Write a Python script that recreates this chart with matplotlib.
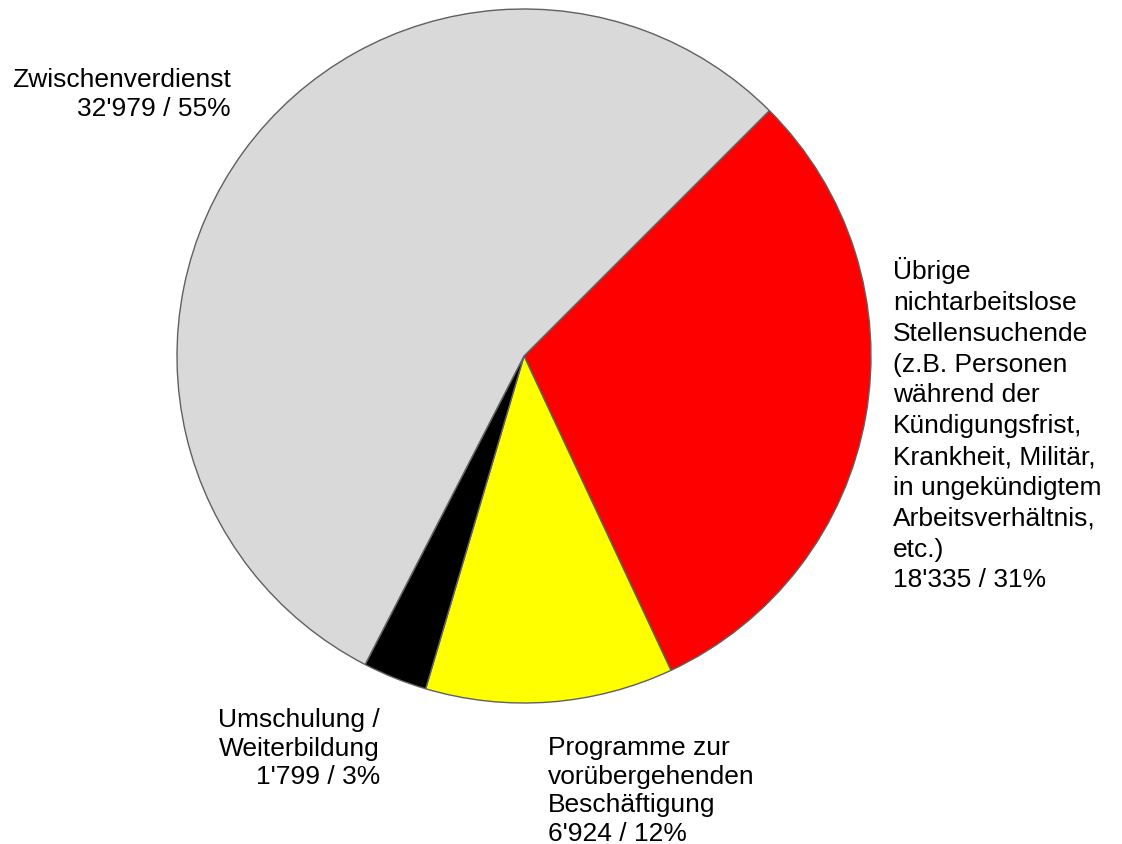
import matplotlib.pyplot as plt

plt.rcParams['font.family'] = ['Liberation Sans', 'DejaVu Sans']

# Data (clockwise from the top right)
categories = [
    "Übrige\nnichtarbeitslose\nStellensuchende\n(z.B. Personen\nwährend der\nKündigungsfrist,\nKrankheit, Militär,\nin ungekündigtem\nArbeitsverhältnis,\netc.)",
    "Programme zur\nvorübergehenden\nBeschäftigung",
    "Umschulung /\nWeiterbildung",
    "Zwischenverdienst",
]
values = [18335, 6924, 1799, 32979]
colors = ['#ff0000', '#ffff00', '#000000', '#d9d9d9']

# label anchors in pixel coordinates (x, y from top), alignment, line spacing
label_pos = [(893, 257, 'left', 1.36), (548, 736, 'left', 1.25),
             (380, 708, 'right', 1.24), (231, 68, 'right', 1.24)]

W, H = 1122, 845
fig = plt.figure(figsize=(W / 100, H / 100), dpi=100)
ax = fig.add_axes([0, 0, 1, 1])

cx, cy, r = 524, 357, 347
ax.pie(values, colors=colors, startangle=45, counterclock=False,
       center=(cx, H - cy), radius=r,
       wedgeprops=dict(edgecolor='#606060', linewidth=1.0))

total = sum(values)
for cat, v, (px, py, ha, ls) in zip(categories, values, label_pos):
    txt = "%s\n%s / %d%%" % (cat, format(v, ',').replace(',', "'"), round(100 * v / total))
    ax.text(px, H - py, txt, ha=ha, va='top', multialignment=ha,
            fontsize=19, linespacing=ls, color='black')

ax.set_xlim(0, W)
ax.set_ylim(0, H)
ax.set_aspect('equal')
ax.axis('off')

plt.savefig('out.png', dpi=100)
